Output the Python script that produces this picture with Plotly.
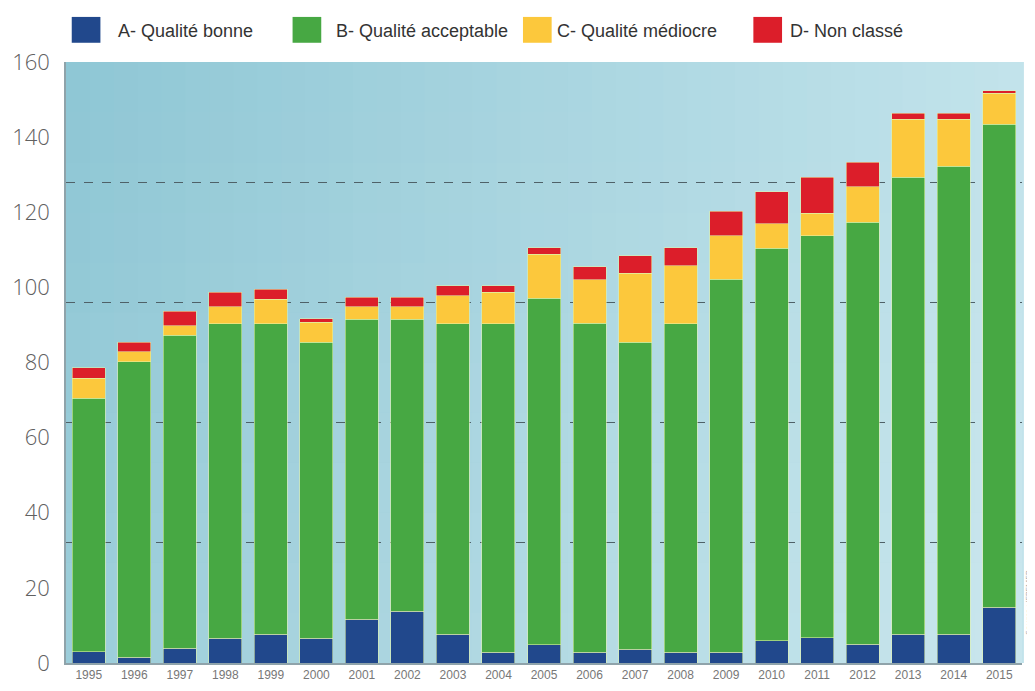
import plotly.graph_objects as go

YEARS = [str(y) for y in range(1995, 2016)]

# nombre de sites par classe de qualité
QUALITE_BONNE = [3.0, 1.5, 3.9, 6.6, 7.6, 6.6, 11.7, 13.8, 7.6, 2.9, 4.8,
                 2.9, 3.7, 2.9, 2.9, 5.9, 6.7, 5.0, 7.6, 7.6, 14.9]
QUALITE_ACCEPTABLE = [67.5, 78.7, 83.4, 83.7, 82.7, 78.8, 79.8, 77.7, 82.7, 87.4, 92.3,
                      87.5, 81.7, 87.4, 99.3, 104.5, 107.0, 112.3, 121.7, 124.7, 128.5]
QUALITE_MEDIOCRE = [5.3, 2.7, 2.5, 4.6, 6.5, 5.3, 3.3, 3.3, 7.5, 8.4, 11.7,
                    11.6, 18.4, 15.4, 11.6, 6.5, 6.0, 9.5, 15.5, 12.5, 8.3]
NON_CLASSE = [2.8, 2.5, 3.9, 3.8, 2.7, 0.9, 2.6, 2.6, 2.7, 1.8, 1.8,
              3.5, 4.6, 4.9, 6.5, 8.6, 9.6, 6.5, 1.6, 1.6, 0.6]

SERIES_NAMES = ["A- Qualité bonne", "B- Qualité acceptable",
                "C- Qualité médiocre", "D- Non classé"]
Y_TICKS = [0, 20, 40, 60, 80, 100, 120, 140, 160]

BLUE = "#21488c"
GREEN = "#47a843"
YELLOW = "#fcc83c"
RED = "#dc1e2a"
TEXT = "#555555"

fig = go.Figure()
for name, values, color in zip(
    SERIES_NAMES,
    [QUALITE_BONNE, QUALITE_ACCEPTABLE, QUALITE_MEDIOCRE, NON_CLASSE],
    [BLUE, GREEN, YELLOW, RED],
):
    fig.add_trace(go.Bar(
        x=YEARS, y=values, name=name,
        marker=dict(color=color, line=dict(color="rgba(225,242,170,0.7)", width=0.8)),
        hovertemplate="%{x}: %{y}<extra>" + name + "</extra>",
    ))

# fond dégradé (bleu-vert plus soutenu à gauche)
n_strips = 40
c0 = (143, 199, 213)
c1 = (194, 227, 235)
for i in range(n_strips):
    t = i / (n_strips - 1)
    r, g, b = (round(a + (b_ - a) * t) for a, b_ in zip(c0, c1))
    fig.add_shape(type="rect", xref="x domain", yref="y domain",
                  x0=i / n_strips, x1=(i + 1) / n_strips + 0.002, y0=0, y1=1,
                  fillcolor=f"rgb({r},{g},{b})", line_width=0, layer="below")
for j in range(12):
    fig.add_shape(type="rect", xref="x domain", yref="y domain",
                  x0=0, x1=1, y0=j / 12, y1=(j + 1) / 12,
                  fillcolor=f"rgba(255,255,255,{0.12 * (1 - j / 11):.3f})",
                  line_width=0, layer="below")

# légende dessinée à la main (grands carrés)
legend_pos = [(0.006, 0.052), (0.237, 0.280), (0.478, 0.512), (0.719, 0.755)]
for (sx, tx), name, color in zip(legend_pos, SERIES_NAMES, [BLUE, GREEN, YELLOW, RED]):
    fig.add_shape(type="rect", xref="paper", yref="paper",
                  x0=sx, x1=sx + 0.030, y0=1.032, y1=1.075,
                  fillcolor=color, line_width=0)
    fig.add_annotation(x=tx, y=1.052, xref="paper", yref="paper", text=name,
                       showarrow=False, xanchor="left", yanchor="middle",
                       font=dict(family="Liberation Sans, Arial, sans-serif", size=18, color="#333333"))

fig.add_annotation(x=1.006, y=0.10, xref="paper", yref="paper", text="Source : IFREMER",
                   showarrow=False, textangle=-90, xanchor="center", yanchor="middle",
                   font=dict(size=8, color="#aaaaaa"))

# la page ajoute une marge de 8 px autour de la figure
fig.update_layout(
    barmode="stack",
    bargap=0.275,
    width=1027, height=683,
    margin=dict(l=58, r=13, t=54, b=28, autoexpand=False),
    paper_bgcolor="white",
    plot_bgcolor="rgba(0,0,0,0)",
    showlegend=False,
    font=dict(family="Open Sans, sans-serif", color=TEXT),
)
fig.update_yaxes(
    range=[0, 160],
    tickvals=Y_TICKS,
    showgrid=False,
    zeroline=False,
    automargin=False,
    showline=True, linecolor="#8fa3aa", linewidth=1.5,
    ticks="", ticklabelstandoff=10,
    tickfont=dict(family="Open Sans, sans-serif", size=22, color="#606060", weight=300),
    minor=dict(tick0=0, dtick=32, showgrid=True, gridcolor="#4f6168",
               griddash="dash", gridwidth=1),
)
fig.update_xaxes(
    showgrid=False,
    automargin=False,
    showline=True, linecolor="#8fa3aa", linewidth=1.5,
    ticks="",
    tickfont=dict(family="Liberation Sans Narrow, Liberation Sans, sans-serif", size=12, color="#777777"),
)

fig.write_html("out.html")
